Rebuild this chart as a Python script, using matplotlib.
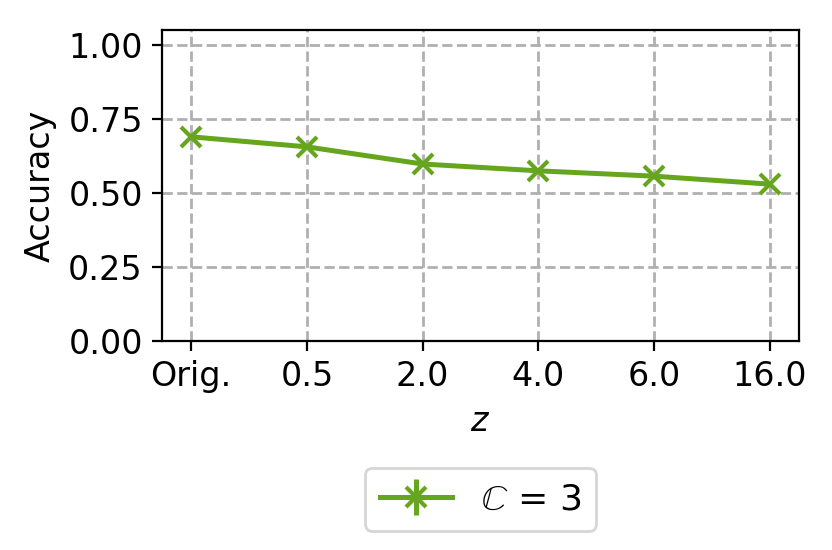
import matplotlib
matplotlib.use("Agg")
import matplotlib.pyplot as plt

z_labels = ["Orig.", "0.5", "2.0", "4.0", "6.0", "16.0"]
accuracy = [0.69, 0.656, 0.598, 0.575, 0.557, 0.530]
accuracy_err = [0.0, 0.0, 0.0, 0.0, 0.0, 0.0]

plt.rcParams["font.size"] = 12

fig, ax = plt.subplots(figsize=(4.16, 2.75), dpi=200)

x = list(range(len(z_labels)))
ax.errorbar(x, accuracy, yerr=accuracy_err, label=r"$\mathbb{C}$ = 3",
            color="#66a61e", marker="x", markersize=7, linewidth=1.8,
            markeredgewidth=1.5)

ax.set_xticks(x)
ax.set_xticklabels(z_labels)
ax.set_ylim(0, 1.05)
ax.set_yticks([0.0, 0.25, 0.5, 0.75, 1.0])
ax.set_xlabel("$z$")
ax.set_ylabel("Accuracy")
ax.grid(True, linestyle="--", color="#b0b0b0", linewidth=1.0)

ax.legend(loc="upper center", bbox_to_anchor=(0.5, -0.35), fontsize=13)

fig.subplots_adjust(left=0.195, right=0.96, top=0.945, bottom=0.38)
fig.savefig("out.png", dpi=200)
